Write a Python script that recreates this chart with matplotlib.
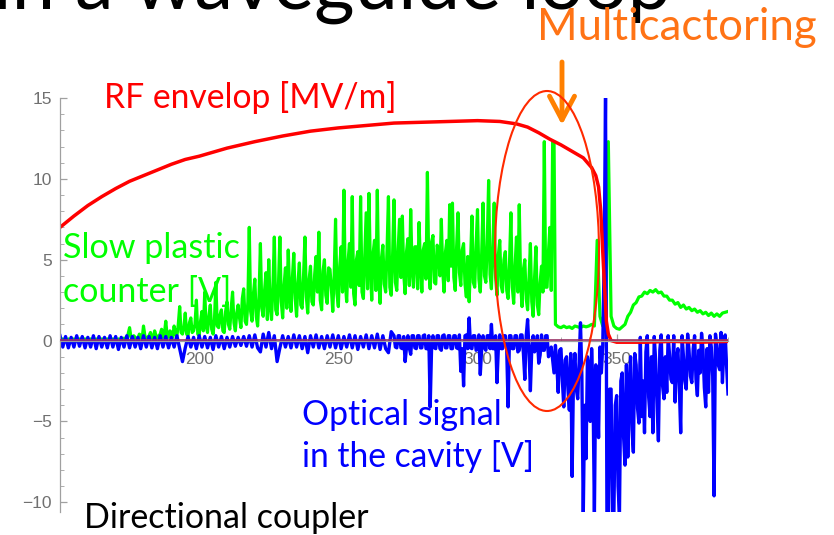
import numpy as np
import matplotlib
matplotlib.use('Agg')
import matplotlib.pyplot as plt
from matplotlib.patches import Ellipse, FancyArrowPatch
from matplotlib.ticker import MultipleLocator

W, H = 834, 535

# scope time base [ns]: coarse where quiet, 0.5 ns where noisy
g_t1 = np.arange(150, 175)
g_t2 = np.arange(175, 328, 0.5)
g_t3 = np.arange(328, 391)
b_t1 = np.arange(150, 270)
b_t2 = np.arange(270, 390.5, 0.5)

# slow plastic counter [V]
green_quiet = [
    0.05, 0.1, 0.0, 0.1, 0.05, 0.1, 0.0, 0.1, 0.05, 0.1,
    0.0, 0.1, 0.05, 0.1, 0.0, 0.1, 0.05, 0.1, 0.0, 0.1,
    0.05, 0.1, 0.0, 0.15, 0.05,
]
green_noisy = [
    0.8, 0.2, 0.1, 0.3, 0.2, 0.1, 0.1, 0.4, 0.3, 0.1,
    0.9, 0.3, 0.1, 0.2, 0.3, 0.5, 0.2, 0.1, 0.6, 0.3,
    0.1, 0.3, 0.4, 0.7, 0.2, 0.4, 1.2, 0.3, 0.2, 0.6,
    0.5, 0.2, 0.9, 0.4, 0.3, 1.0, 2.1, 0.5, 0.4, 0.8,
    1.7, 0.4, 0.3, 1.1, 1.4, 0.5, 0.6, 1.0, 2.5, 0.4,
    0.3, 1.2, 1.8, 0.6, 3.0, 0.9, 0.5, 1.5, 2.2, 0.7,
    0.4, 1.3, 3.6, 0.9, 0.8, 1.6, 1.9, 0.6, 0.5, 1.8,
    2.4, 1.0, 0.7, 2.0, 3.0, 1.1, 0.6, 1.7, 2.2, 1.4,
    0.8, 2.6, 3.2, 1.2, 1.0, 2.4, 7.0, 1.8, 1.2, 2.9,
    3.8, 1.5, 0.9, 2.7, 6.0, 2.0, 1.5, 3.1, 4.2, 1.3,
    5.0, 2.2, 1.3, 3.3, 6.4, 1.9, 1.6, 3.5, 6.4, 2.4,
    1.4, 3.4, 4.5, 2.0, 5.6, 3.1, 1.8, 3.9, 5.4, 2.6,
    1.5, 3.6, 4.8, 2.2, 2.0, 4.0, 6.4, 2.7, 1.7, 3.8,
    4.6, 2.4, 2.2, 4.1, 5.2, 3.0, 6.7, 2.5, 1.9, 4.3,
    5.0, 2.8, 2.3, 4.5, 4.4, 3.2, 1.8, 4.0, 7.5, 2.9,
    2.1, 4.6, 5.8, 3.0, 9.3, 3.6, 2.4, 4.9, 6.0, 3.3,
    8.9, 2.9, 2.2, 5.0, 5.5, 3.4, 8.9, 3.0, 2.6, 5.2,
    7.9, 3.2, 9.1, 4.6, 2.5, 5.4, 6.2, 3.1, 9.3, 3.8,
    2.3, 5.1, 5.9, 3.5, 3.0, 5.6, 8.9, 3.3, 2.8, 5.3,
    8.7, 3.6, 3.1, 5.7, 7.5, 3.9, 7.7, 4.1, 2.9, 5.5,
    6.3, 3.4, 8.1, 4.4, 3.3, 5.8, 5.8, 3.2, 7.3, 4.7,
    3.0, 5.6, 6.0, 3.8, 10.4, 4.5, 3.2, 6.1, 6.5, 3.6,
    3.5, 5.9, 5.6, 4.0, 7.5, 4.3, 3.0, 5.5, 6.2, 3.7,
    8.4, 4.6, 8.5, 3.9, 3.1, 5.8, 7.9, 4.2, 3.4, 5.6,
    6.0, 3.5, 2.7, 5.2, 2.4, 4.8, 7.7, 3.6, 3.3, 5.9,
    8.1, 3.8, 3.0, 5.4, 8.5, 4.0, 3.6, 6.0, 9.9, 4.1,
    3.2, 5.7, 8.5, 3.9, 2.8, 5.3, 6.2, 3.4, 3.0, 5.0,
    5.5, 3.1, 2.6, 4.8, 7.9, 3.3, 2.3, 4.6, 6.4, 3.0,
    8.4, 3.5, 2.1, 4.4, 5.0, 2.6, 1.9, 3.8, 6.0, 2.4,
    1.5, 3.9, 5.8, 2.2, 1.6, 3.6, 4.6, 3.0, 12.3, 3.3,
    3.3, 5.5, 7.0, 3.1, 12.3, 12.3,
]
green_tail = [
    1.0, 0.85,
    0.8, 0.9, 0.8, 0.85, 0.75, 0.9, 0.85, 0.8, 0.9, 0.85,
    0.9, 1.0, 0.9, 6.2, 1.5, 0.9, 0.8, 12.3, 1.5, 0.9,
    0.75, 0.7, 0.85, 1.0, 1.5, 1.75, 2.2, 2.35, 2.7, 2.75,
    3.0, 2.9, 3.1, 3.0, 3.15, 2.95, 3.0, 2.75, 2.75, 2.5,
    2.5, 2.25, 2.35, 2.05, 2.2, 1.95, 2.05, 1.85, 1.95, 1.75,
    1.85, 1.65, 1.75, 1.55, 1.7, 1.5, 1.65, 1.5, 1.7, 1.75, 1.8,
]

# optical signal in the cavity [V]
blue_quiet = [
    0.3, -0.4, 0.25, -0.45, 0.2, -0.4, 0.3, -0.35, 0.25, -0.45,
    0.2, -0.4, 0.3, -0.5, 0.25, -0.4, 0.2, -0.45, 0.3, -0.4,
    0.25, -0.55, 0.2, -0.4, 0.3, -0.45, 0.25, -0.4, 0.2, -0.5,
    0.3, -0.4, 0.25, -0.45, 0.2, -0.5, 0.3, -0.4, 0.25, -0.45,
    0.2, -0.4, 0.3, -0.5, -1.3, -0.45, 0.25, -0.4, 0.2, -0.5,
    0.3, -0.4, 0.25, -0.45, 0.2, -0.55, 0.3, -0.4, 0.25, -0.5,
    0.2, -0.4, 0.25, -0.35, 0.2, -0.3, 0.25, -0.35, 0.3, -0.4,
    0.35, -0.45, -0.7, 0.4, -0.4, 0.5, -0.5, 0.3, -1.3, -0.45,
    0.3, -0.4, 0.25, -0.45, 0.35, -0.4, 0.3, -0.5, 0.25, -0.75,
    0.3, -0.4, 0.35, -0.45, 0.25, -0.5, 0.3, -0.4, 0.35, -0.45,
    0.3, -0.5, 0.25, -0.4, 0.35, -0.45, 0.3, -0.55, 0.25, -0.4,
    0.35, -0.5, 0.3, -0.45, 0.4, -0.55, 0.3, -0.5, -0.75, 0.55,
]
blue_noisy = [
    0.3, -0.4, -0.45, 0.3, 0.3, -0.45, -0.5, 0.25, -1.3, -0.4,
    0.3, -0.45, -0.85, 0.3, 0.3, -0.45, -0.5, 0.3, 0.3, -0.45,
    -0.45, 0.3, 0.35, -0.5, -0.5, 0.3, -4.1, -0.45, 0.3, -0.45,
    -0.5, 0.3, 0.3, -0.5, -0.6, 0.3, 0.35, -0.45, -0.45, 0.3,
    0.3, -0.5, -0.5, 0.3, 0.3, -0.45, -0.5, 0.35, -1.9, -0.5,
    -2.8, 0.3, 0.35, -0.5, 1.4, -0.45, -0.5, 0.3, 0.3, -0.6,
    -0.5, 0.35, -2.1, -0.5, 0.3, -0.45, -0.6, 0.3, 0.3, -0.5,
    1.0, -0.5, -0.5, 0.3, -2.6, -0.45, 0.35, -0.5, -0.5, 0.3,
    0.3, -0.6, -4.1, 0.3, 0.3, -0.5, -0.5, 0.3, 0.3, -0.7,
    -0.6, 0.35, 0.35, -0.8, -2.4, 0.3, 1.3, -0.6, -3.1, -0.5,
    0.3, -0.7, -0.5, 0.3, -1.4, -0.9, 0.35, -0.6, -0.6, 0.3,
    0.3, -1.0, -0.8, -0.4, -1.2, -2.0, -0.3, -1.5, -3.2, -0.6,
    -0.5, -2.5, -4.1, -1.2, -1.0, -3.0, -4.3, -0.8, -8.4, -2.0,
    -0.8, -3.0, -3.6, -1.4, 1.1, -2.2, -10.8, -4.0, -7.3, -1.0,
    -1.6, -5.0, -0.5, -3.0, -10.8, -1.5, -2.8, -6.0, -0.4, -2.0,
    -0.3, 5.0, 15.0, -10.8, -10.8, -3.0, -3.0, -10.8, -10.8, -4.0,
    -3.4, -9.0, -10.8, -2.5, -2.0, -6.0, -7.7, -1.5, -7.2, -3.0,
    -1.0, -5.5, -6.9, -0.8, -1.5, -4.2, -5.1, 0.2, -4.7, -2.5,
    -5.7, -0.7, 0.3, -3.5, -4.7, -1.0, -5.7, 0.25, -1.2, -4.0,
    -6.2, -0.6, 0.35, -2.8, -3.6, -1.0, -3.2, 0.3, -0.9, -2.4,
    -2.6, 0.3, -3.8, -1.2, -0.5, -2.8, -5.7, 0.3, -1.0, -2.5,
    -3.0, 0.4, -0.6, -2.2, -2.6, -0.5, 0.3, -2.4, -3.4, -0.6,
    -2.0, 0.45, -0.5, -2.9, -4.1, -0.5, -3.2, 0.3, -0.4, -2.2,
    -9.6, 0.4, -0.3, -1.5, -1.8, 0.5, -2.6, -0.5, 0.35, -1.6,
    -3.3,
]

# RF envelope [MV/m]
rf_t = [150, 155, 160, 165, 170, 175, 180, 185, 190, 195, 200, 210, 220,
        230, 240, 250, 260, 270, 280, 290, 300, 308, 314, 318, 322, 326,
        330, 334, 338, 341, 342.5, 343.5, 344.3, 345, 345.6, 346.3, 347,
        348, 350, 360, 370, 380, 390]
rf = [7.0, 7.7, 8.35, 8.9, 9.4, 9.85, 10.2, 10.55, 10.9, 11.2, 11.4, 11.9,
      12.3, 12.65, 12.95, 13.15, 13.3, 13.45, 13.5, 13.55, 13.6, 13.55,
      13.4, 13.2, 12.85, 12.45, 12.1, 11.7, 11.3, 10.7, 10.2, 9.5, 8.0, 5.5,
      3.5, 1.2, 0.4, 0.0, -0.1, -0.1, -0.05, -0.1, -0.05]

# directional coupler
coupler_t = [150, 390]
coupler = [0.05, 0.05]

g_t = np.concatenate([g_t1, g_t2, g_t3])
green = np.concatenate([green_quiet, green_noisy, green_tail])
b_t = np.concatenate([b_t1, b_t2])
blue = np.concatenate([blue_quiet, blue_noisy])

fig = plt.figure(figsize=(W / 100, H / 100), dpi=100)
ax = fig.add_axes([60 / W, 1 - 512 / H, 668 / W, 414 / H])

ax.plot(g_t, green, color='#00ff00', lw=2.3, zorder=2)
ax.plot(b_t, blue, color='#0000ff', lw=2.4, zorder=2.1)
ax.plot(rf_t, rf, color='#ff0000', lw=2.5, zorder=2.2)
ax.plot(coupler_t, coupler, color='#993366', lw=1.2, zorder=3)

ax.set_xlim(150, 390)
ax.set_ylim(-10.6, 15)
for s in ['top', 'right']:
    ax.spines[s].set_visible(False)
ax.spines['bottom'].set_position(('data', 0))
for s in ['left', 'bottom']:
    ax.spines[s].set_color('#a0a0a0')
    ax.spines[s].set_linewidth(0.9)

ax.set_xticks([200, 250, 300, 350])
ax.xaxis.set_minor_locator(MultipleLocator(10))
ax.set_yticks([-10, -5, 0, 5, 10, 15])
ax.yaxis.set_minor_locator(MultipleLocator(1))
ax.tick_params(which='both', direction='in', color='#a0a0a0',
               labelcolor='#707070', labelsize=12.5)
ax.tick_params(which='major', length=5, width=0.9)
ax.tick_params(which='minor', length=3, width=0.6)
ax.tick_params(axis='x', pad=8)
ax.tick_params(axis='y', pad=6)
for lab in ax.get_xticklabels() + ax.get_yticklabels():
    lab.set_family('Liberation Sans')

renderer = fig.canvas.get_renderer()


def label(s, x0, x1, base, color, ha='left'):
    # place text by its pixel extent on the slide, fit size to width
    txt = fig.text((x0 if ha == 'left' else x1) / W, 1 - base / H, s,
                   color=color, family='Lato', fontsize=20,
                   va='baseline', ha=ha)
    w = txt.get_window_extent(renderer=renderer).width
    txt.set_fontsize(20 * (x1 - x0) / w)
    return txt


title = label('n a waveguide loop', 10, 671, 9, 'black', ha='right')
title.set_text('in a waveguide loop')
label('Multicactoring', 537, 817, 40, '#ff7315')
label('RF envelop [MV/m]', 104, 397, 108, '#ff0000')
label('Slow plastic', 63, 240, 258, '#00ff00')
label('counter [V]', 63, 232, 302, '#00ff00')
label('Optical signal', 302, 502, 425, '#0000ff')
label('in the cavity [V]', 302, 535, 467, '#0000ff')
label('Directional coupler', 84, 370, 528, 'black')

fig.add_artist(FancyArrowPatch((562 / W, 1 - 62 / H), (562 / W, 1 - 125 / H),
                               transform=fig.transFigure,
                               arrowstyle='->,head_length=0.85,head_width=0.45',
                               mutation_scale=20, color='#ff8000', lw=3.5,
                               shrinkA=0, shrinkB=0))
fig.add_artist(Ellipse((547 / W, 1 - 251 / H), 104 / W, 320 / H,
                       transform=fig.transFigure, fill=False,
                       ec='#ff2a00', lw=1.5, zorder=5))

fig.savefig('out.png', dpi=100)
